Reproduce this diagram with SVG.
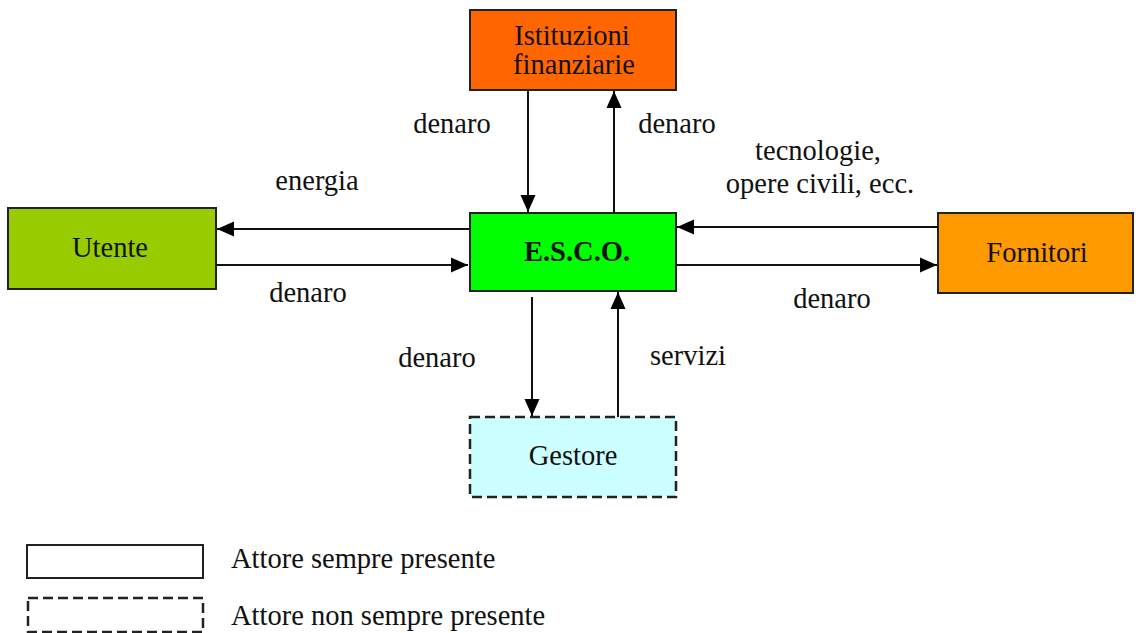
<svg xmlns="http://www.w3.org/2000/svg" width="1136" height="633" viewBox="0 0 1136 633">
<style>
text{font-family:"Liberation Serif","Times New Roman",serif;font-size:28.5px;fill:#111}
.c{text-anchor:middle}
.box{stroke:#222;stroke-width:2}
.dash{stroke-dasharray:10,5;stroke-width:2.5}
.ln{stroke:#111;stroke-width:2;fill:none;marker-end:url(#ah)}
</style>
<defs>
<marker id="ah" markerUnits="userSpaceOnUse" markerWidth="18" markerHeight="16" viewBox="0 0 18 16" refX="17" refY="8" orient="auto">
<path d="M0,0.5 L17,8 L0,15.5 Z" fill="#000"/>
</marker>
</defs>
<rect width="1136" height="633" fill="#fff"/>
<g id="istituzioni">
<rect class="box" x="470" y="10" width="206" height="80" fill="#FF6600"/>
<text class="c" x="572" y="45">Istituzioni</text>
<text class="c" x="574" y="74">finanziarie</text>
</g>
<g id="esco">
<rect class="box" x="470" y="213" width="206" height="78" fill="#00FF00"/>
<text class="c" x="577" y="261" font-weight="bold">E.S.C.O.</text>
</g>
<g id="utente">
<rect class="box" x="8" y="208" width="208" height="81" fill="#99CC00"/>
<text class="c" x="110" y="257">Utente</text>
</g>
<g id="fornitori">
<rect class="box" x="938" y="213" width="195" height="80" fill="#FF9900"/>
<text class="c" x="1037" y="262">Fornitori</text>
</g>
<g id="gestore">
<rect class="box dash" x="470" y="417" width="206" height="80" fill="#CCFFFF"/>
<text class="c" x="573" y="465">Gestore</text>
</g>
<g id="connectors">
<line class="ln" x1="528" y1="90" x2="528" y2="212"/>
<line class="ln" x1="614" y1="213" x2="614" y2="91"/>
<line class="ln" x1="469" y1="229" x2="217" y2="229"/>
<line class="ln" x1="216" y1="265" x2="468" y2="265"/>
<line class="ln" x1="938" y1="227" x2="677" y2="227"/>
<line class="ln" x1="676" y1="265" x2="937" y2="265"/>
<line class="ln" x1="532" y1="297" x2="532" y2="416"/>
<line class="ln" x1="618" y1="417" x2="618" y2="292"/>
</g>
<g id="labels">
<text class="c" x="452" y="133">denaro</text>
<text class="c" x="677" y="133">denaro</text>
<text class="c" x="317" y="190">energia</text>
<text class="c" x="308" y="302">denaro</text>
<text class="c" x="818" y="160">tecnologie,</text>
<text class="c" x="820" y="193">opere civili, ecc.</text>
<text class="c" x="832" y="308">denaro</text>
<text class="c" x="437" y="367">denaro</text>
<text class="c" x="688" y="365">servizi</text>
</g>
<g id="legend">
<rect class="box" x="27" y="545" width="176" height="33" fill="#fff"/>
<rect class="box dash" x="28" y="598" width="175" height="34" fill="#fff"/>
<text x="231" y="568">Attore sempre presente</text>
<text x="231" y="625">Attore non sempre presente</text>
</g>
</svg>
